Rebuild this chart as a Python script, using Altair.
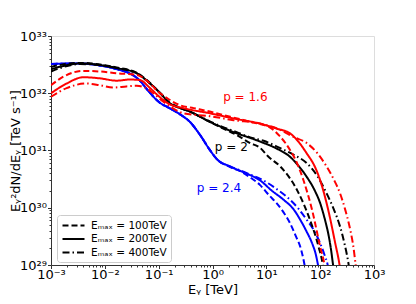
import altair as alt
import pandas as pd

# ---- data (log10 E [TeV], log10 E^2 dN/dE [TeV/s]) ----
# p = 2.4 (blue)
b100_x = [-3, -2.5, -2.0, -1.7, -1.5, -1.35, -1.2, -1.0, -0.8, -0.6, -0.42, -0.23, -0.05, 0.08, 0.33, 0.55, 0.7, 0.88, 1.05, 1.19, 1.32, 1.44, 1.55, 1.63, 1.68, 1.71, 1.74]
b100_y = [32.51, 32.52, 32.47, 32.40, 32.33, 32.22, 32.05, 31.85, 31.74, 31.63, 31.50, 31.27, 31.01, 30.85, 30.71, 30.62, 30.53, 30.40, 30.22, 30.08, 29.92, 29.73, 29.50, 29.32, 29.14, 29.0, 28.8]
b200_x = [-3, -2.5, -2.0, -1.7, -1.5, -1.35, -1.2, -1.0, -0.8, -0.6, -0.42, -0.23, -0.05, 0.08, 0.33, 0.55, 0.7, 0.88, 1.1, 1.32, 1.5, 1.63, 1.75, 1.85, 1.92, 1.96, 2.0]
b200_y = [32.51, 32.52, 32.47, 32.40, 32.33, 32.22, 32.05, 31.85, 31.74, 31.63, 31.50, 31.27, 31.01, 30.85, 30.72, 30.63, 30.57, 30.48, 30.30, 30.14, 29.98, 29.79, 29.58, 29.38, 29.18, 29.0, 28.8]
b400_x = [-3, -2.5, -2.0, -1.7, -1.5, -1.35, -1.2, -1.0, -0.8, -0.6, -0.42, -0.23, -0.05, 0.08, 0.33, 0.55, 0.7, 0.88, 1.2, 1.44, 1.6, 1.75, 1.9, 2.0, 2.08, 2.14, 2.18]
b400_y = [32.51, 32.52, 32.47, 32.40, 32.33, 32.22, 32.05, 31.85, 31.74, 31.63, 31.50, 31.27, 31.01, 30.85, 30.72, 30.64, 30.58, 30.51, 30.32, 30.14, 29.98, 29.79, 29.58, 29.38, 29.18, 29.0, 28.8]

# p = 2 (black)
k100_x = [-3, -2.8, -2.46, -2.0, -1.78, -1.41, -1.16, -0.97, -0.79, -0.6, -0.42, -0.23, -0.05, 0.14, 0.45, 0.7, 0.88, 1.04, 1.26, 1.57, 1.81, 1.97, 2.05, 2.08]
k100_y = [32.46, 32.50, 32.53, 32.49, 32.45, 32.36, 32.18, 32.0, 31.83, 31.75, 31.68, 31.59, 31.50, 31.41, 31.27, 31.13, 31.05, 30.89, 30.72, 30.31, 29.79, 29.32, 29.0, 28.8]
k200_x = [-3, -2.8, -2.46, -2.0, -1.78, -1.41, -1.16, -0.97, -0.79, -0.6, -0.42, -0.23, -0.05, 0.14, 0.45, 0.7, 0.9, 1.2, 1.44, 1.6, 1.75, 1.9, 2.0, 2.1, 2.15, 2.2, 2.24, 2.27]
k200_y = [32.42, 32.47, 32.52, 32.48, 32.44, 32.35, 32.17, 32.0, 31.82, 31.74, 31.68, 31.59, 31.50, 31.42, 31.30, 31.22, 31.15, 31.03, 30.89, 30.73, 30.54, 30.30, 30.08, 29.75, 29.55, 29.28, 29.0, 28.8]
k400_x = [-3, -2.8, -2.46, -2.0, -1.78, -1.41, -1.16, -0.97, -0.79, -0.6, -0.42, -0.23, -0.05, 0.14, 0.45, 0.7, 0.95, 1.26, 1.5, 1.75, 1.95, 2.12, 2.25, 2.37, 2.45, 2.53, 2.56]
k400_y = [32.38, 32.45, 32.51, 32.48, 32.44, 32.35, 32.17, 32.0, 31.82, 31.74, 31.68, 31.59, 31.51, 31.43, 31.32, 31.23, 31.17, 31.04, 30.93, 30.78, 30.55, 30.25, 29.98, 29.67, 29.38, 29.0, 28.8]

# p = 1.6 (red)
r100_x = [-3, -2.77, -2.4, -2.09, -1.78, -1.41, -1.16, -1.0, -0.82, -0.6, -0.35, -0.05, 0.33, 0.7, 1.07, 1.25, 1.44, 1.57, 1.69, 1.85, 2.0, 2.08, 2.11]
r100_y = [32.14, 32.29, 32.39, 32.38, 32.35, 32.32, 32.17, 32.02, 31.90, 31.79, 31.74, 31.68, 31.59, 31.50, 31.40, 31.25, 31.01, 30.78, 30.48, 29.96, 29.32, 29.0, 28.8]
r200_x = [-3, -2.71, -2.4, -2.09, -1.78, -1.53, -1.35, -1.16, -1.0, -0.82, -0.54, -0.05, 0.39, 0.88, 1.2, 1.44, 1.6, 1.75, 1.9, 2.0, 2.15, 2.28, 2.36, 2.39]
r200_y = [32.0, 32.17, 32.28, 32.26, 32.22, 32.24, 32.23, 32.09, 31.95, 31.82, 31.74, 31.65, 31.56, 31.47, 31.38, 31.30, 31.15, 30.95, 30.72, 30.48, 29.96, 29.38, 29.0, 28.8]
r400_x = [-3, -2.71, -2.34, -2.09, -1.84, -1.6, -1.41, -1.28, -1.1, -0.95, -0.82, -0.54, -0.05, 0.39, 0.88, 1.26, 1.5, 1.75, 1.95, 2.12, 2.25, 2.37, 2.47, 2.56, 2.62, 2.66, 2.69]
r400_y = [31.94, 32.09, 32.17, 32.14, 32.10, 32.12, 32.13, 32.11, 32.0, 31.88, 31.79, 31.65, 31.60, 31.53, 31.47, 31.36, 31.24, 31.13, 30.95, 30.72, 30.50, 30.25, 29.95, 29.61, 29.30, 29.0, 28.8]

p_labels = ["p = 1.6", "p = 2", "p = 2.4"]
p_colors = ["#ff0000", "#000000", "#0000ff"]
p_label_logE = [0.61, 0.35, 0.12]
p_label_logF = [31.93, 31.06, 30.35]

emax_labels = ["Eₘₐₓ = 100TeV", "Eₘₐₓ = 200TeV", "Eₘₐₓ = 400TeV"]

curves = [
    ("p = 2.4", emax_labels[0], b100_x, b100_y),
    ("p = 2.4", emax_labels[1], b200_x, b200_y),
    ("p = 2.4", emax_labels[2], b400_x, b400_y),
    ("p = 2", emax_labels[0], k100_x, k100_y),
    ("p = 2", emax_labels[1], k200_x, k200_y),
    ("p = 2", emax_labels[2], k400_x, k400_y),
    ("p = 1.6", emax_labels[0], r100_x, r100_y),
    ("p = 1.6", emax_labels[1], r200_x, r200_y),
    ("p = 1.6", emax_labels[2], r400_x, r400_y),
]

rows = []
for i, (p, em, xs, ys) in enumerate(curves):
    for j, (lx, ly) in enumerate(zip(xs, ys)):
        rows.append({"curve": i, "order": j, "p": p, "emax": em,
                     "E": 10 ** lx, "F": 10 ** ly})
df = pd.DataFrame(rows)

lab_df = pd.DataFrame({"p": p_labels,
                       "E": [10 ** v for v in p_label_logE],
                       "F": [10 ** v for v in p_label_logF]})

SUP = {"-": "⁻", "0": "⁰", "1": "¹", "2": "²", "3": "³", "9": "⁹"}


def sup(n):
    return "".join(SUP[c] for c in str(n))


def label_expr(exps):
    e = "round(log(datum.value)/LN10)"
    expr = "''"
    for n in exps:
        expr = f"({e} == {n} ? '10{sup(n)}' : {expr})"
    return f"abs(log(datum.value)/LN10 - {e}) > 0.01 ? '' : {expr}"


x_decades = list(range(-3, 4))
y_decades = list(range(29, 34))
x_ticks = [k * 10.0 ** d for d in range(-3, 3) for k in range(1, 10)] + [1e3]
y_ticks = [k * 10.0 ** d for d in range(29, 33) for k in range(1, 10)] + [1e33]

decade_test = "abs(log(datum.value)/LN10 - round(log(datum.value)/LN10)) < 0.01"

x_scale = alt.Scale(type="log", domain=[1e-3, 1e3], nice=False)
y_scale = alt.Scale(type="log", domain=[1e29, 1e33], nice=False)

x_axis = alt.Axis(values=x_ticks, labelExpr=label_expr(x_decades), title="Eᵧ [TeV]",
                  grid=False, tickSize={"condition": {"test": decade_test, "value": 3.5}, "value": 2},
                  labelFontSize=13, titleFontSize=13, titleFontWeight="normal",
                  labelColor="black", titleColor="black", domainColor="#333", tickColor="#333",
                  labelFlush=False, labelOverlap=False, labelPadding=0,
                  titleX=161.5, titleY=24, titleAlign="center", titleBaseline="middle")
y_axis = alt.Axis(values=y_ticks, labelExpr=label_expr(y_decades), title="Eᵧ²dN/dEᵧ [TeV s⁻¹]",
                  grid=False, tickSize={"condition": {"test": decade_test, "value": 3.5}, "value": 2},
                  labelFontSize=13, titleFontSize=13, titleFontWeight="normal",
                  labelColor="black", titleColor="black", domainColor="#333", tickColor="#333",
                  labelFlush=False, labelOverlap=False, labelPadding=1,
                  titleX=-36, titleY=114.5, titleAlign="center", titleBaseline="middle",
                  titleAngle=270)

lines = alt.Chart(df).mark_line(strokeWidth=2, clip=True, interpolate="monotone").encode(
    x=alt.X("E:Q", scale=x_scale, axis=x_axis),
    y=alt.Y("F:Q", scale=y_scale, axis=y_axis),
    color=alt.Color("p:N", scale=alt.Scale(domain=p_labels, range=p_colors), legend=None),
    strokeDash=alt.StrokeDash(
        "emax:N",
        scale=alt.Scale(domain=emax_labels, range=[[6, 3], [1, 0], [7, 3, 1.5, 3]]),
        legend=alt.Legend(title=None, orient="none", legendX=6, legendY=179,
                          symbolType="M-2,0H2", symbolSize=121, symbolStrokeWidth=2,
                          symbolStrokeColor="black", labelFontSize=10.5, labelColor="black",
                          fillColor="white", strokeColor="#cccccc", cornerRadius=3,
                          padding=4, rowPadding=1.5, labelOffset=11, symbolOffset=6),
    ),
    detail="curve:N",
    order="order:Q",
)

labels = alt.Chart(lab_df).mark_text(fontSize=12, align="center", baseline="middle").encode(
    x=alt.X("E:Q", scale=x_scale),
    y=alt.Y("F:Q", scale=y_scale),
    text="p:N",
    color=alt.Color("p:N", scale=alt.Scale(domain=p_labels, range=p_colors), legend=None),
)

chart = (lines + labels).properties(
    width=323, height=229,
    autosize=alt.AutoSizeParams(type="none"),
    padding={"left": 43, "top": 28, "right": 34, "bottom": 31},
).configure_view(stroke="#333", strokeWidth=1).configure(font="DejaVu Sans")

chart.save("out.html", embed_options={"renderer": "svg", "actions": False})
